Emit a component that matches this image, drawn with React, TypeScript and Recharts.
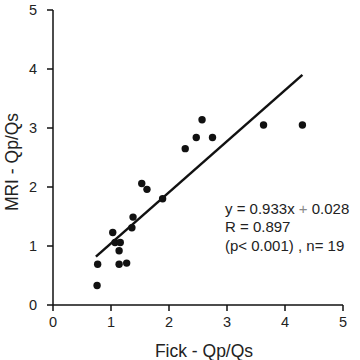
import React from 'react';
import { ScatterChart, Scatter, XAxis, YAxis, Customized } from 'recharts';

const fickValues = [0.76, 0.77, 1.03, 1.07, 1.16, 1.14, 1.14, 1.27, 1.36, 1.38, 1.53, 1.62, 1.89, 2.28, 2.47, 2.57, 2.75, 3.63, 4.30];
const mriValues = [0.33, 0.69, 1.23, 1.06, 1.06, 0.92, 0.69, 0.71, 1.31, 1.49, 2.06, 1.96, 1.80, 2.65, 2.84, 3.14, 2.84, 3.05, 3.05];
const fitX = [0.74, 4.30];
const fitY = [0.82, 3.90];
const ticks = [0, 1, 2, 3, 4, 5];
const equationParts = ['y = 0.933x ', '+', ' 0.028'];
const annotationLines = ['R = 0.897', '(p< 0.001) , n= 19'];
const xLabel = 'Fick - Qp/Qs';
const yLabel = 'MRI - Qp/Qs';

const points = fickValues.map((x, i) => ({ x, y: mriValues[i] }));
const fit = fitX.map((x, i) => ({ x, y: fitY[i] }));

const FONT = 'Liberation Sans, Arial, Helvetica, sans-serif';

const Overlay = () => (
  <g fontFamily={FONT} fill="#222">
    <text x={225} y={208} fontSize={15} dominantBaseline="central">
      <tspan>{equationParts[0]}</tspan>
      <tspan fill="#888">{equationParts[1]}</tspan>
      <tspan>{equationParts[2]}</tspan>
    </text>
    {annotationLines.map((t, i) => (
      <text key={i} x={225} y={208 + (i + 1) * 18.5} fontSize={15} dominantBaseline="central">{t}</text>
    ))}
    <text x={204} y={351} fontSize={17.5} textAnchor="middle" dominantBaseline="central">{xLabel}</text>
    <text x={12} y={162} fontSize={17.5} textAnchor="middle" dominantBaseline="central" transform="rotate(-90 12 162)">{yLabel}</text>
  </g>
);

export default function App() {
  return (
    <div style={{ position: 'absolute', left: 0, top: 0, background: '#fff' }}>
      <ScatterChart width={360} height={360} margin={{ top: 10, right: 17, bottom: 25, left: 13 }}>
        <XAxis
          type="number"
          dataKey="x"
          domain={[0, 5]}
          ticks={ticks}
          height={30}
          tickSize={6}
          tickMargin={6}
          axisLine={{ stroke: '#111', strokeWidth: 1.5 }}
          tickLine={{ stroke: '#111', strokeWidth: 1.5 }}
          tick={{ fill: '#222', fontSize: 14.5, fontFamily: FONT }}
          allowDataOverflow
        />
        <YAxis
          type="number"
          dataKey="y"
          domain={[0, 5]}
          ticks={ticks}
          width={40}
          tickSize={6}
          tickMargin={10}
          axisLine={{ stroke: '#111', strokeWidth: 1.5 }}
          tickLine={{ stroke: '#111', strokeWidth: 1.5 }}
          tick={{ fill: '#222', fontSize: 14.5, fontFamily: FONT }}
          allowDataOverflow
        />
        <Scatter data={points} fill="#111" isAnimationActive={false}
          shape={(p: any) => <circle cx={p.cx} cy={p.cy} r={3.7} fill="#111" />} />
        <Scatter data={fit} line={{ stroke: '#111', strokeWidth: 2.5 }} isAnimationActive={false}
          shape={() => <g />} />
        <Customized component={Overlay} />
      </ScatterChart>
    </div>
  );
}
